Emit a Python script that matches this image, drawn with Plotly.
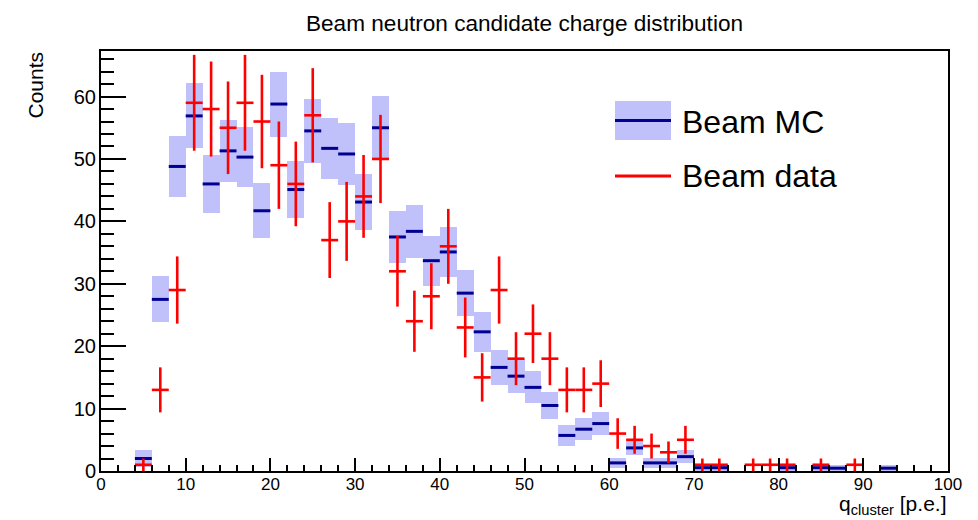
import numpy as np
import plotly.graph_objects as go

# ---------------- data ----------------
mc_x = [5, 7, 9, 11, 13, 15, 17, 19, 21, 23, 25, 27, 29, 31, 33, 35, 37, 39, 41,
        43, 45, 47, 49, 51, 53, 55, 57, 59, 61, 63, 65, 67, 69, 71, 73, 81, 85, 87, 93]
mc_y = [2.0, 27.5, 48.8, 56.9, 46.0, 51.3, 50.3, 41.7, 58.8, 45.1, 54.5, 51.7, 50.8,
        43.1, 55.0, 37.5, 38.4, 33.7, 35.1, 28.5, 22.3, 16.6, 15.2, 13.4, 10.5, 5.7,
        6.7, 7.6, 1.3, 3.7, 1.3, 1.3, 2.3, 0.53, 0.53, 0.53, 0.53, 0.45, 0.45]
mc_err = [1.3, 3.7, 4.9, 5.2, 4.7, 4.95, 4.85, 4.4, 5.2, 4.6, 5.1, 4.9, 4.9,
          4.5, 5.1, 4.2, 4.3, 4.0, 4.05, 3.7, 3.25, 2.8, 2.7, 2.55, 2.2, 1.65,
          1.8, 1.85, 0.85, 1.1, 0.85, 0.85, 1.0, 0.53, 0.53, 0.53, 0.53, 0.45, 0.45]

data_x = [5, 7, 9, 11, 13, 15, 17, 19, 21, 23, 25, 27, 29, 31, 33, 35, 37, 39, 41,
          43, 45, 47, 49, 51, 53, 55, 57, 59, 61, 63, 65, 67, 69, 71, 73, 77, 79, 81, 85, 89]
data_y = [1, 13, 29, 59, 58, 55, 59, 56, 49, 46, 57, 37, 40, 44, 50, 32, 24, 28, 36,
          23, 15, 29, 18, 22, 18, 13, 13, 14, 6, 5, 4, 3, 5, 1, 1, 1, 1, 1, 1, 1]

bin_width = 2.0
x_ticks = [0, 10, 20, 30, 40, 50, 60, 70, 80, 90, 100]
y_ticks = [0, 10, 20, 30, 40, 50, 60]

# ---------------- styling ----------------
FONT = "Liberation Sans, Arial, Helvetica, sans-serif"
FILL = "rgb(192,192,250)"
NAVY = "rgb(0,0,145)"
RED = "rgb(255,0,0)"

W, H = 978, 520
L, R, T, B = 101, 30, 51, 49
PW, PH = W - L - R, H - T - B


def px(xp):
    return (xp - L) / PW


def py(yp):
    return (H - B - yp) / PH


mc_y_a = np.array(mc_y)
mc_err_a = np.array(mc_err)
data_y_a = np.array(data_y, dtype=float)
data_err = np.sqrt(data_y_a)
half = [bin_width / 2] * len(mc_x)
half_d = [bin_width / 2] * len(data_x)

fig = go.Figure()

# MC uncertainty band (boxes)
fig.add_trace(go.Bar(
    x=mc_x, y=2 * mc_err_a, base=mc_y_a - mc_err_a, width=bin_width,
    marker=dict(color=FILL, line=dict(width=0)), hoverinfo="skip", name="Beam MC band"))

# MC central values (horizontal segments)
fig.add_trace(go.Scatter(
    x=mc_x, y=mc_y, mode="markers", marker=dict(size=2, color=NAVY, opacity=0),
    error_x=dict(type="data", array=half, symmetric=True, width=0, thickness=3, color=NAVY),
    name="Beam MC"))

# Data crosses
fig.add_trace(go.Scatter(
    x=data_x, y=data_y, mode="markers", marker=dict(size=2, color=RED, opacity=0),
    error_x=dict(type="data", array=half_d, symmetric=True, width=0, thickness=2.6, color=RED),
    error_y=dict(type="data", array=data_err, symmetric=True, width=0, thickness=2.6, color=RED),
    name="Beam data"))

axis_common = dict(
    showgrid=False, zeroline=False, showline=True, linecolor="black", linewidth=2,
    mirror=True, ticks="inside", tickcolor="black", tickwidth=2,
)

fig.update_layout(
    width=W, height=H,
    margin=dict(l=L, r=R, t=T, b=B),
    plot_bgcolor="white", paper_bgcolor="white",
    showlegend=False, bargap=0,
    font=dict(family=FONT, color="black"),
    title=dict(text="Beam neutron candidate charge distribution",
               x=0.5, xref="paper", xanchor="center",
               y=1 - 23 / H, yref="container", yanchor="middle",
               font=dict(size=22.6, family=FONT, color="black")),
    xaxis=dict(range=[0, 100], tickvals=x_ticks, ticklen=13,
               tickfont=dict(size=17, family=FONT), ticklabelstandoff=-3,
               minor=dict(dtick=2, tick0=0, ticks="inside", ticklen=6.5,
                          tickwidth=1.6, tickcolor="black", showgrid=False),
               **axis_common),
    yaxis=dict(range=[0, 67.3], tickvals=y_ticks, ticklen=25,
               tickfont=dict(size=20, family=FONT), ticklabelstandoff=-1,
               minor=dict(dtick=2, tick0=0, ticks="inside", ticklen=13,
                          tickwidth=1.6, tickcolor="black", showgrid=False),
               **axis_common),
)

# Axis titles (ROOT style placement)
fig.add_annotation(text="Counts", textangle=-90, xref="paper", yref="paper",
                   x=px(35), y=py(50), xanchor="center", yanchor="top",
                   showarrow=False, font=dict(size=21, family=FONT, color="black"))
fig.add_annotation(text="q<sub>cluster</sub> [p.e.]", xref="paper", yref="paper",
                   x=1.0, y=py(490), xanchor="right", yanchor="top",
                   showarrow=False, font=dict(size=21, family=FONT, color="black"))

# Legend (drawn manually to mimic ROOT legend entries)
fig.add_shape(type="rect", xref="paper", yref="paper",
              x0=px(615), x1=px(671), y0=py(140), y1=py(101),
              fillcolor=FILL, line=dict(width=0), layer="above")
fig.add_shape(type="line", xref="paper", yref="paper",
              x0=px(615), x1=px(671), y0=py(120.5), y1=py(120.5),
              line=dict(color=NAVY, width=3), layer="above")
fig.add_shape(type="line", xref="paper", yref="paper",
              x0=px(615), x1=px(671), y0=py(176), y1=py(176),
              line=dict(color=RED, width=3), layer="above")
fig.add_annotation(text="Beam MC", xref="paper", yref="paper",
                   x=px(680), y=py(122), xanchor="left", yanchor="middle",
                   showarrow=False, font=dict(size=32, family=FONT, color="black"))
fig.add_annotation(text="Beam data", xref="paper", yref="paper",
                   x=px(680), y=py(176), xanchor="left", yanchor="middle",
                   showarrow=False, font=dict(size=32, family=FONT, color="black"))

fig.write_html("out.html")
